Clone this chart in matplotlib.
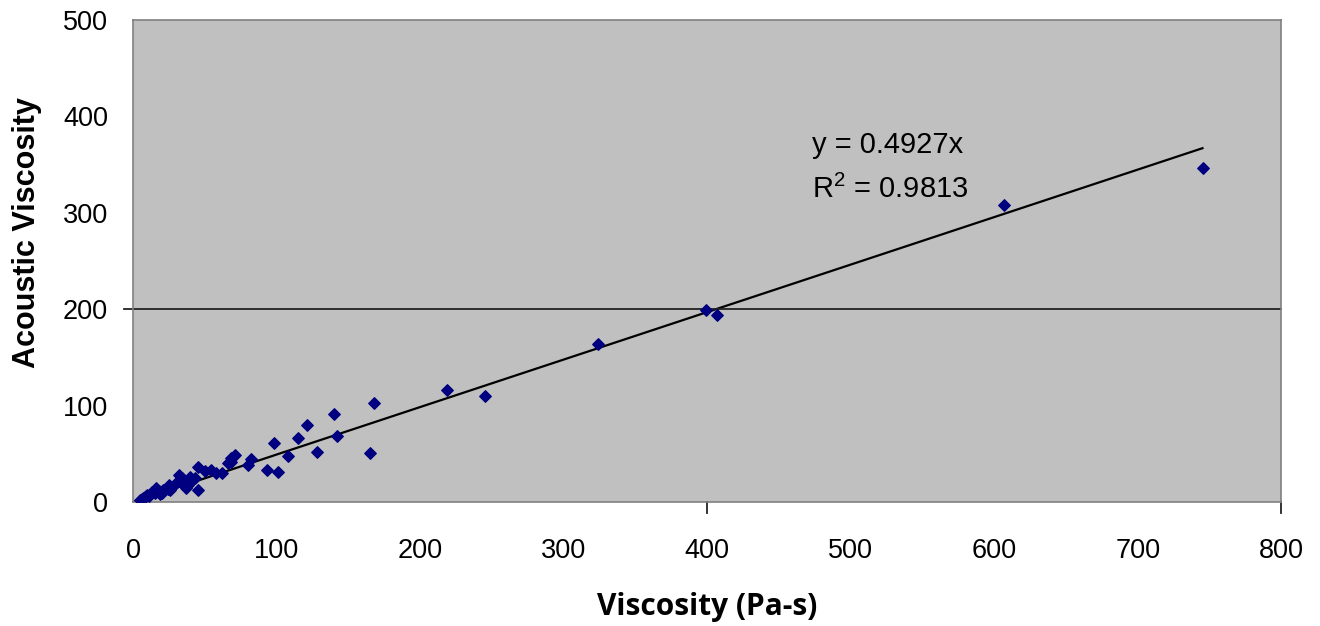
import numpy as np
import matplotlib
matplotlib.use("Agg")
import matplotlib.pyplot as plt

# データ
viscosity = [745, 607, 399, 407, 324, 245, 219, 168, 165, 140, 142, 121, 128,
             115, 108, 98, 101, 93, 82, 80, 71, 68, 68, 58, 54, 45, 45, 41, 37,
             34, 30, 27, 24, 21, 18, 16, 15, 12, 10, 8, 7, 5, 6, 9, 13, 20, 25,
             32, 50, 62, 35, 33, 38, 43, 26, 19, 11, 66, 40, 36]
acoustic = [347, 308, 199, 194, 164, 110, 116, 103, 51, 91, 69, 80, 52,
            66, 48, 61, 31, 33, 45, 38, 49, 46, 42, 30, 33, 36, 13, 23, 15,
            25, 20, 16, 14, 12, 11, 15, 9, 8, 7, 5, 4, 2, 3, 6, 10, 9, 18,
            28, 32, 30, 19, 22, 18, 25, 13, 8, 6, 41, 26, 21]
slope = 0.4927
r2 = 0.9813

plt.rcParams['font.family'] = ['Liberation Sans', 'DejaVu Sans']
plt.rcParams['mathtext.default'] = 'regular'

fig = plt.figure(figsize=(13.2, 6.26), dpi=100)
ax = fig.add_axes([0.1008, 0.198, 0.870, 0.770])
ax.set_facecolor('#c0c0c0')

ax.scatter(viscosity, acoustic, marker='D', s=34, color='#000080', zorder=3)

# 近似直線
xs = np.array([0, max(viscosity)])
ax.plot(xs, slope * xs, color='black', lw=1.6, zorder=2)

# 200 の横線 (左に少しはみ出す)
ax.plot([-6, 800], [200, 200], color='#222222', lw=1.3, clip_on=False, zorder=2)
# 400 と 800 の小さな目盛り
for xt in [400, 800]:
    ax.plot([xt, xt], [0, -11], color='#222222', lw=1.3, clip_on=False)

ax.text(473, 370, f"y = {slope}x", fontsize=21, va='center')
ax.text(473, 324, f"R$^2$ = {r2}", fontsize=21, va='center')

ax.set_xlim(0, 800)
ax.set_ylim(0, 500)
ax.set_xticks(range(0, 801, 100))
ax.set_yticks(range(0, 501, 100))
ax.tick_params(length=0, labelsize=19.5)
ax.tick_params(axis='x', pad=26)
ax.tick_params(axis='y', pad=18)
for s in ax.spines.values():
    s.set_color('#808080')
    s.set_linewidth(1.2)

ax.set_ylabel('Acoustic Viscosity', fontsize=22, fontweight='bold',
              va='center', ha='center')
ax.yaxis.set_label_coords(-0.092, 0.56)
ax.set_xlabel('Viscosity (Pa-s)', fontsize=21.5, fontweight='bold',
              family=['Open Sans', 'DejaVu Sans'], va='center', ha='center')
ax.xaxis.set_label_coords(0.5, -0.218)

fig.savefig('out.png', dpi=100)
